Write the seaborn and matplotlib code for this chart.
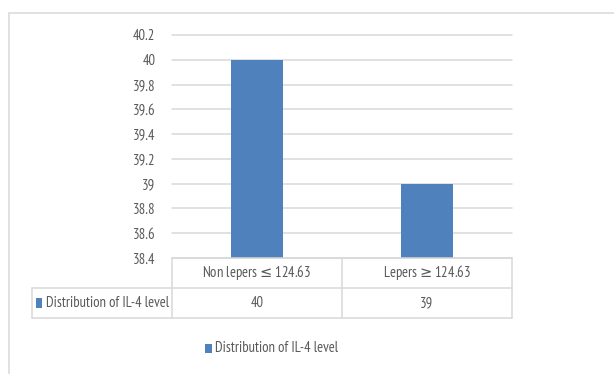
import matplotlib
matplotlib.use("Agg")
import matplotlib.pyplot as plt
from matplotlib.lines import Line2D
from matplotlib.patches import Rectangle
from matplotlib.transforms import blended_transform_factory
import seaborn as sns
import pandas as pd

# Data
categories = ["Non lepers \u2264 124.63", "Lepers \u2265 124.63"]
values = [40, 39]
series_name = "Distribution of IL-4 level"
y_ticks = [38.4, 38.6, 38.8, 39.0, 39.2, 39.4, 39.6, 39.8, 40.0, 40.2]
y_tick_labels = ["38.4", "38.6", "38.8", "39", "39.2", "39.4", "39.6", "39.8", "40", "40.2"]

BAR = "#4f81bd"
TEXT = "#595959"
LINE = "#d9d9d9"
FS = 10.5

sns.set_style("white")
plt.rcParams["font.family"] = ["PT Sans Narrow", "DejaVu Sans"]
plt.rcParams["font.size"] = FS
plt.rcParams["mathtext.fontset"] = "dejavusans"

W, H = 614, 374
fig = plt.figure(figsize=(W / 100, H / 100), dpi=100)


def fx(px):
    return px / W


def fy(py):
    return 1 - py / H


def header_label(s):
    # upright comparison signs from the math font (which adds its own spacing)
    return s.replace(" \u2264 ", r"$\leq$").replace(" \u2265 ", r"$\geq$")


# plot area in pixels: left 172, right 512, top 35, bottom 258
ax = fig.add_axes([fx(172), fy(258), fx(512) - fx(172), fy(35) - fy(258)])

df = pd.DataFrame({"category": categories, "value": values})
sns.barplot(data=df, x="category", y="value", color=BAR, width=0.31,
            saturation=1, ax=ax, zorder=3, linewidth=0)

ax.set_ylim(y_ticks[0], y_ticks[-1])
ax.set_xlim(-0.5, len(categories) - 0.5)
ax.set_yticks(y_ticks)
ax.set_yticklabels(y_tick_labels, color=TEXT, fontsize=FS)
ax.tick_params(axis="y", length=0, pad=12)
ax.set_xticks([])
ax.set_xlabel("")
ax.set_ylabel("")
for s in ax.spines.values():
    s.set_visible(False)
ax.yaxis.grid(True, color=LINE, linewidth=1.1, zorder=0)
for gl in ax.get_ygridlines():
    gl.set_clip_on(False)
ax.set_axisbelow(True)

# Data table under the plot
tr = blended_transform_factory(ax.transData, fig.transFigure)
bounds = [-0.5 + i for i in range(len(categories) + 1)]
row_top, row_mid, row_bot = fy(258), fy(288), fy(318)
left_x = fx(32)


def hline(x0, x1, y, transform):
    fig.add_artist(Line2D([x0, x1], [y, y], color=LINE, lw=1.1, transform=transform))


def vline(x, y0, y1, transform):
    fig.add_artist(Line2D([x, x], [y0, y1], color=LINE, lw=1.1, transform=transform))


hline(bounds[0], bounds[-1], row_top, tr)
hline(left_x, fx(512), row_mid, fig.transFigure)
hline(left_x, fx(512), row_bot, fig.transFigure)
vline(left_x, row_mid, row_bot, fig.transFigure)
for b in bounds:
    vline(b, row_top, row_bot, tr)

for i, (cat, val) in enumerate(zip(categories, values)):
    fig.text(i, (row_top + row_mid) / 2, header_label(cat), transform=tr,
             ha="center", va="center", color=TEXT, fontsize=FS)
    fig.text(i, (row_mid + row_bot) / 2, f"{val:g}", transform=tr, ha="center",
             va="center", color=TEXT, fontsize=FS)

# series key in the table
fig.add_artist(Rectangle((fx(36), fy(308)), fx(6), fy(298) - fy(308),
                         transform=fig.transFigure, color=BAR, lw=0))
fig.text(fx(46), (row_mid + row_bot) / 2, series_name, ha="left", va="center",
         color=TEXT, fontsize=FS)

# legend
fig.add_artist(Rectangle((fx(205), fy(353)), fx(7), fy(344) - fy(353),
                         transform=fig.transFigure, color=BAR, lw=0))
fig.text(fx(215), fy(348.5), series_name, ha="left", va="center",
         color=TEXT, fontsize=FS)

# chart frame
fig.add_artist(Line2D([fx(8.5), fx(8.5)], [fy(12.5), 0], color=LINE, lw=1.1,
                      transform=fig.transFigure))
fig.add_artist(Line2D([fx(8.5), 1], [fy(12.5), fy(12.5)], color=LINE, lw=1.1,
                      transform=fig.transFigure))

fig.savefig("out.png", dpi=100)
